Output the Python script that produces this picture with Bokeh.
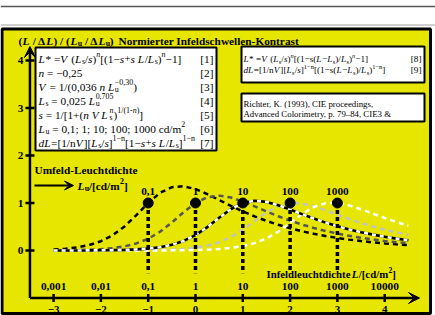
import math
from bokeh.plotting import figure
from bokeh.models import Range1d, Arrow, VeeHead
from bokeh.core.properties import value
from bokeh.embed import file_html
from bokeh.resources import INLINE

# ---------------- data ----------------
log_lum = [-3.0, -2.75, -2.5, -2.25, -2.0, -1.75, -1.5, -1.25, -1.0, -0.75, -0.5, -0.25,
           0.0, 0.25, 0.5, 0.75, 1.0, 1.25, 1.5, 1.75, 2.0, 2.25, 2.5, 2.75,
           3.0, 3.25, 3.5, 3.75, 4.0, 4.25, 4.5]
ratio_lu_0_1 = [0.021, 0.038, 0.066, 0.114, 0.195, 0.322, 0.507, 0.744, 1.000, 1.213, 1.334, 1.353,
                1.292, 1.187, 1.064, 0.940, 0.823, 0.717, 0.624, 0.541, 0.469, 0.406, 0.352, 0.305,
                0.264, 0.229, 0.198, 0.172, 0.149, 0.129, 0.111]
ratio_lu_1 = [0.003, 0.005, 0.009, 0.016, 0.028, 0.050, 0.087, 0.149, 0.247, 0.394, 0.588, 0.807,
              1.000, 1.122, 1.155, 1.116, 1.032, 0.929, 0.822, 0.721, 0.629, 0.547, 0.475, 0.412,
              0.357, 0.309, 0.268, 0.232, 0.201, 0.174, 0.151]
ratio_lu_10 = [0.000, 0.001, 0.001, 0.002, 0.004, 0.007, 0.013, 0.023, 0.040, 0.070, 0.120, 0.202,
               0.325, 0.493, 0.689, 0.873, 1.000, 1.047, 1.023, 0.954, 0.863, 0.766, 0.673, 0.587,
               0.511, 0.444, 0.385, 0.334, 0.289, 0.250, 0.217]
ratio_lu_100 = [0.000, 0.000, 0.000, 0.000, 0.001, 0.001, 0.002, 0.003, 0.006, 0.011, 0.019, 0.034,
                0.060, 0.103, 0.173, 0.282, 0.434, 0.619, 0.802, 0.938, 1.000, 0.990, 0.930, 0.846,
                0.754, 0.663, 0.580, 0.505, 0.438, 0.380, 0.330]
ratio_lu_1000 = [0.000, 0.000, 0.000, 0.000, 0.000, 0.000, 0.000, 0.001, 0.001, 0.002, 0.003, 0.005,
                 0.010, 0.017, 0.030, 0.053, 0.091, 0.155, 0.255, 0.398, 0.578, 0.766, 0.917, 0.996,
                 1.000, 0.949, 0.868, 0.776, 0.684, 0.599, 0.522]

surround_lum = [0.1, 1, 10, 100, 1000]
surround_labels = ["0,1", "1", "10", "100", "1000"]
surround_ratio = [1.0, 1.0, 1.0, 1.0, 1.0]

x_ticks = [-3, -2, -1, 0, 1, 2, 3, 4]
x_tick_labels_log = ["\u22123", "\u22122", "\u22121", "0", "1", "2", "3", "4"]
x_tick_labels_lum = ["0,001", "0,01", "0,1", "1", "10", "100", "1000", "10000"]
y_ticks = [0, 1, 2, 3, 4]
y_tick_labels = ["0", "1", "2", "3", "4"]

# ---------------- geometry ----------------
W, H = 435, 315
X0P, SX = 195.0, 47.3    # px of x=0, px per unit
Y0P, SY = 250.0, 47.5    # px of y=0, px per unit


def px2x(p):
    return (p - X0P) / SX


def py2y(p):
    return (Y0P - p) / SY


FONT = "Liberation Serif"

p = figure(width=W, height=H, output_backend="svg", toolbar_location=None,
           x_range=Range1d(-X0P / SX, (W - X0P) / SX),
           y_range=Range1d((Y0P - H) / SY, Y0P / SY),
           x_axis_type=None, y_axis_type=None, min_border=0)
p.grid.visible = False
p.outline_line_color = None
p.background_fill_color = "white"
p.border_fill_color = "white"

# top rules and yellow panel
p.line(x=[px2x(0), px2x(W)], y=[py2y(6), py2y(6)], line_color="#555555", line_width=1.5)
p.line(x=[px2x(0), px2x(W)], y=[py2y(24.5), py2y(24.5)], line_color="#a0a0a0", line_width=1)
p.quad(left=px2x(1.5), right=px2x(430), top=py2y(28.5), bottom=py2y(313),
       fill_color="#e6e600", line_color="black", line_width=3)

# boxes
p.quad(left=px2x(35), right=px2x(216), top=py2y(47), bottom=py2y(150),
       fill_color="white", line_color="black", line_width=2)
p.quad(left=px2x(241), right=px2x(424), top=py2y(46), bottom=py2y(82),
       fill_color="white", line_color="black", line_width=2)
p.quad(left=px2x(241), right=px2x(424), top=py2y(93), bottom=py2y(121),
       fill_color="white", line_color="black", line_width=2)

# ---------------- text helpers ----------------
WID = {' ': 250, '(': 333, ')': 333, '*': 500, '+': 564, ',': 250, '-': 333, '.': 250, '/': 278,
       ':': 278, ';': 278, '=': 564, '[': 333, ']': 333, '&': 778, '\u2212': 564, '\u2013': 500,
       '\u0394': 612, 'A': 722, 'C': 667, 'E': 611, 'I': 333, 'K': 722, 'L': 611, 'N': 722,
       'R': 667, 'U': 722, 'V': 722, 'a': 444, 'b': 500, 'c': 444, 'd': 500, 'e': 444, 'f': 333,
       'g': 500, 'h': 500, 'i': 278, 'k': 500, 'l': 278, 'm': 778, 'n': 500, 'o': 500, 'p': 500,
       'r': 333, 's': 389, 't': 278, 'u': 500, 'v': 500, 'w': 722, 'y': 500}
for d in "0123456789":
    WID[d] = 500


def tw(s, size, bold):
    return sum(WID.get(c, 500) for c in s) / 1000.0 * size * (1.05 if bold else 1.0)


def put(xp, yp, t, size, style, off=0.0, align="left"):
    # yp is the vertical centre of the text line
    p.text(x=[px2x(xp)], y=[py2y(yp)], text=[t], text_font=value(FONT),
           text_font_size="%.1fpx" % size, text_font_style=style, text_color="black",
           text_align=align, text_baseline="middle", y_offset=off)


def rich(xp, yp, segs, size, bold=False):
    x = xp
    for t, k in segs:
        small = k.startswith("sb") or k.startswith("sp")
        sz = size * 0.7 if small else size
        italic = k.endswith("i")
        style = ("bold " if bold else "") + ("italic" if italic else "")
        style = style.strip() or "normal"
        off = 0.0
        if k.startswith("sb"):
            off = 0.3 * size
        elif k.startswith("sp"):
            off = -0.36 * size
        lead = len(t) - len(t.lstrip(" "))
        x += tw(" " * lead, sz, bold)
        body = t.strip(" ")
        put(x, yp, body, sz, style, off)
        if k != "sb0":
            x += tw(t[lead:], sz, bold)


# ---------------- curves ----------------
def curve(ys, color, dash, width):
    p.line(x=log_lum, y=ys, line_color=color, line_dash=dash, line_width=width)


curve(ratio_lu_0_1, "black", "5 4", 2.5)
curve(ratio_lu_1, "#555555", "5 4", 2.5)
curve(ratio_lu_100, "#c4c4c4", "5 4", 2.5)
curve(ratio_lu_1000, "white", "5 4", 2.5)
p.line(x=log_lum, y=ratio_lu_10, line_color="black", line_width=2.6)
p.line(x=log_lum, y=ratio_lu_10, line_color="white", line_width=2.6, line_dash="4 4")

# drop lines and points
surround_log = [math.log10(v) for v in surround_lum]
p.segment(x0=surround_log, y0=surround_ratio, x1=surround_log, y1=[-0.48] * len(surround_log),
          line_color="black", line_width=3.5, line_dash="4 3")
p.scatter(x=surround_log, y=surround_ratio, size=10, fill_color="black", line_color="black")
p.text(x=surround_log, y=surround_ratio, text=surround_labels, text_font=value(FONT),
       text_font_size="11.3px", text_font_style="bold", text_align="center",
       text_baseline="middle", y_offset=-12, text_color="black")

# ---------------- axes ----------------
ax_x, ax_y = -3.5, -1.0
p.add_layout(Arrow(x_start=ax_x, y_start=ax_y, x_end=px2x(419), y_end=ax_y, line_width=2.5,
                   end=VeeHead(size=11, fill_color="black", line_color="black", line_width=1)))
p.add_layout(Arrow(x_start=ax_x, y_start=ax_y, x_end=ax_x, y_end=py2y(46), line_width=2.5,
                   end=VeeHead(size=11, fill_color="black", line_color="black", line_width=1)))
tick_h = 4.0 / SY
tick_w = 4.5 / SX
p.segment(x0=x_ticks, y0=[ax_y - tick_h] * len(x_ticks), x1=x_ticks, y1=[ax_y + tick_h] * len(x_ticks),
          line_color="black", line_width=2.5)
p.segment(x0=[ax_x - tick_w] * len(y_ticks), y0=y_ticks, x1=[ax_x + tick_w] * len(y_ticks), y1=y_ticks,
          line_color="black", line_width=2.5)
p.text(x=x_ticks, y=[ax_y] * len(x_ticks), text=x_tick_labels_lum, text_font=value(FONT),
       text_font_size="11.3px", text_font_style="bold", text_align="center",
       text_baseline="middle", y_offset=-12, text_color="black")
p.text(x=x_ticks, y=[ax_y] * len(x_ticks), text=x_tick_labels_log, text_font=value(FONT),
       text_font_size="11px", text_font_style="bold", text_align="center",
       text_baseline="middle", y_offset=11, text_color="black")
p.text(x=[px2x(20)] * len(y_ticks), y=y_ticks, text=y_tick_labels, text_font=value(FONT),
       text_font_size="11.3px", text_font_style="bold", text_align="center",
       text_baseline="middle", text_color="black")

# ---------------- labels ----------------
rich(18, 40, [("(", "r"), ("L", "i"), (" / \u0394", "r"), ("L", "i"), (") / (", "r"), ("L", "i"),
              ("u", "sb"), (" / \u0394", "r"), ("L", "i"), ("u", "sb"), (")", "r")], 11.3, bold=True)
put(118, 40, "Normierter Infeldschwellen-Kontrast", 11.3, "bold")

put(34, 169, "Umfeld-Leuchtdichte", 11.3, "bold")
p.add_layout(Arrow(x_start=px2x(34), y_start=py2y(185), x_end=px2x(73), y_end=py2y(185), line_width=2,
                   end=VeeHead(size=9, fill_color="black", line_color="black", line_width=1)))
rich(77, 185, [("L", "i"), ("u", "sb"), ("/[cd/m", "r"), ("2", "sp"), ("]", "r")], 11.3, bold=True)

rich(266, 273, [("Infeldleuchtdichte ", "r"), ("L", "i"), ("/[cd/m", "r"), ("2", "sp"), ("]", "r")],
     10.8, bold=True)

# formula box (left)
M = "\u2212"
formulas_left = [
    [("L", "i"), ("* =", "r"), ("V", "i"), (" (", "r"), ("L", "i"), ("s", "sb"), ("/", "r"), ("s", "i"),
     (")", "r"), ("n", "spi"), ("[(1" + M, "r"), ("s", "i"), ("+", "r"), ("s L", "i"), ("/", "r"),
     ("L", "i"), ("s", "sb"), (")", "r"), ("n", "spi"), (M + "1]", "r")],
    [("n", "i"), (" = " + M + "0,25", "r")],
    [("V", "i"), (" = 1/(0,036 ", "r"), ("n L", "i"), ("u", "sb0"), (M + "0,30", "sp"), (")", "r")],
    [("L", "i"), ("s", "sb"), (" = 0,025 ", "r"), ("L", "i"), ("u", "sb0"), ("0,705", "sp")],
    [("s", "i"), (" = 1/[1+(", "r"), ("n V L", "i"), ("s", "sb0"), ("n", "spi"), (")", "r"),
     ("1/(1-", "sp"), ("n", "spi"), (")", "sp"), ("]", "r")],
    [("L", "i"), ("u", "sb"), (" = 0,1; 1; 10; 100; 1000 cd/m", "r"), ("2", "sp")],
    [("dL", "i"), ("=[1/n", "r"), ("V", "i"), ("][", "r"), ("L", "i"), ("s", "sb"), ("/", "r"),
     ("s", "i"), ("]", "r"), ("1" + M + "n", "sp"), ("[1" + M, "r"), ("s", "i"), ("+", "r"),
     ("s L", "i"), ("/", "r"), ("L", "i"), ("s", "sb"), ("]", "r"), ("1" + M + "n", "sp")],
]
for i, segs in enumerate(formulas_left):
    yc = 58 + 14 * i
    rich(38, yc, segs, 11.3)
    put(213, yc, "[%d]" % (i + 1), 11.3, "normal", align="right")

formulas_right = [
    [("L", "i"), ("* =", "r"), ("V", "i"), (" (", "r"), ("L", "i"), ("s", "sb"), ("/", "r"), ("s", "i"),
     (")", "r"), ("n", "spi"), ("[(1" + M + "s(", "r"), ("L", "i"), (M, "r"), ("L", "i"), ("s", "sb"),
     (")/", "r"), ("L", "i"), ("s", "sb"), (")", "r"), ("n", "spi"), (M + "1]", "r")],
    [("dL", "i"), ("=[1/n", "r"), ("V", "i"), ("][", "r"), ("L", "i"), ("s", "sb"), ("/", "r"),
     ("s", "i"), ("]", "r"), ("1" + M + "n", "sp"), ("[(1" + M + "s(", "r"), ("L", "i"), (M, "r"),
     ("L", "i"), ("s", "sb"), (")/", "r"), ("L", "i"), ("s", "sb"), (")", "r"), ("1" + M + "n", "sp"),
     ("]", "r")],
]
for i, segs in enumerate(formulas_right):
    yc = 58 + 11 * i
    rich(243, yc, segs, 9.2)
    put(421, yc, "[%d]" % (i + 8), 9.2, "normal", align="right")

put(243, 103, "Richter, K. (1993), CIE proceedings,", 8.8, "normal")
put(243, 113, "Advanced Colorimetry, p. 79\u201384, CIE3 &", 8.8, "normal")

open("out.html", "w").write(file_html(p, INLINE))
